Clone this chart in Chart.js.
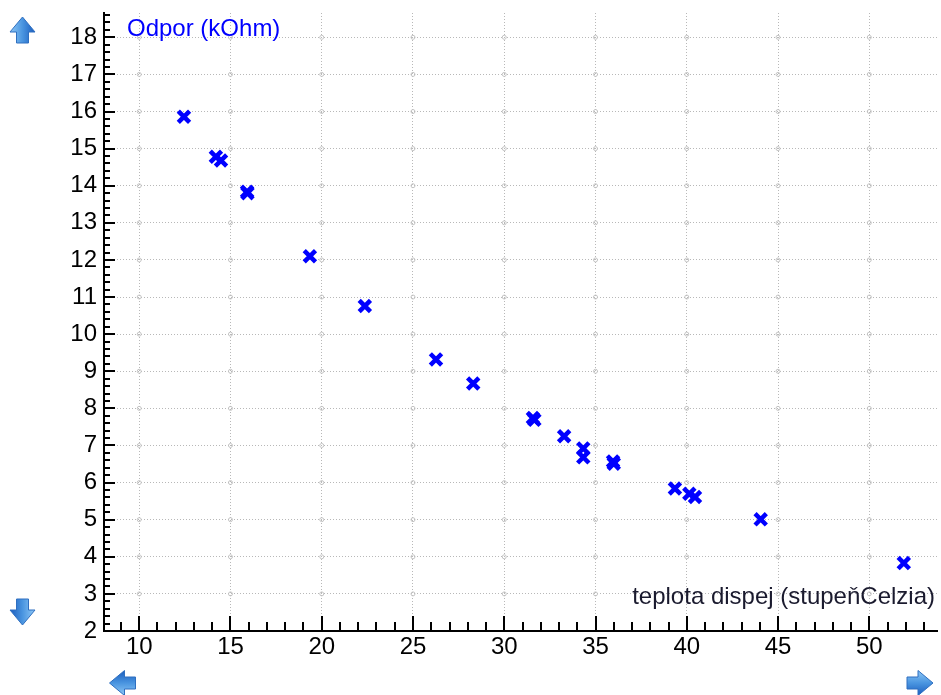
<!DOCTYPE html>
<html><head><meta charset="utf-8">
<script src="https://cdn.jsdelivr.net/npm/chart.js@4/dist/chart.umd.min.js"></script>
<style>html,body{margin:0;padding:0;background:#fff;overflow:hidden}#wrap{width:941px;height:695px;position:relative}</style>
</head><body><div id="wrap"><canvas id="c" width="941" height="695"></canvas></div>
<script>
// ---- data ----
const temperature = [12.45, 14.20, 14.48, 15.91, 15.93, 19.35, 22.36, 26.26, 28.30, 31.57, 31.65, 33.28, 34.33, 34.33, 35.96, 36.00, 39.35, 40.14, 40.45, 44.05, 51.89];
const resistance  = [15.86, 14.78, 14.68, 13.84, 13.80, 12.10, 10.76, 9.32, 8.67, 7.74, 7.69, 7.25, 6.92, 6.68, 6.57, 6.51, 5.84, 5.70, 5.61, 5.01, 3.83];
const xTickLabels = [10, 15, 20, 25, 30, 35, 40, 45, 50];
const yTickLabels = [2, 3, 4, 5, 6, 7, 8, 9, 10, 11, 12, 13, 14, 15, 16, 17, 18];
const xAxisTitle = 'teplota dispej (stupeňCelzia)';
const yAxisTitle = 'Odpor (kOhm)';
const xRange = [8.07, 53.71];
const yRange = [2, 18.655];

const FONT = "'Liberation Sans', Arial, sans-serif";

function drawArrow(ctx, cx, cy, angle) {
  ctx.save();
  ctx.translate(cx, cy);
  ctx.rotate(angle);
  const g = ctx.createLinearGradient(-12, 0, 12, 0);
  g.addColorStop(0, '#8cc6f5');
  g.addColorStop(0.5, '#4a95e0');
  g.addColorStop(1, '#1c5fbf');
  ctx.beginPath();
  ctx.moveTo(0, -13);
  ctx.lineTo(12.5, 2);
  ctx.lineTo(6, 2);
  ctx.lineTo(6, 13);
  ctx.lineTo(-6, 13);
  ctx.lineTo(-6, 2);
  ctx.lineTo(-12.5, 2);
  ctx.closePath();
  ctx.fillStyle = g;
  ctx.fill();
  ctx.lineWidth = 1;
  ctx.strokeStyle = '#2f6fc0';
  ctx.stroke();
  ctx.restore();
}

const decorPlugin = {
  id: 'decor',
  afterDraw(chart) {
    const {ctx, chartArea} = chart;
    const xs = chart.scales.x, ys = chart.scales.y;
    ctx.save();
    ctx.strokeStyle = '#c4c4c4';
    ctx.lineWidth = 1;
    xTickLabels.forEach(xv => {
      yTickLabels.forEach(yv => {
        if (yv === yRange[0]) return;
        ctx.beginPath();
        ctx.arc(xs.getPixelForValue(xv), ys.getPixelForValue(yv), 2, 0, Math.PI * 2);
        ctx.stroke();
      });
    });
    ctx.strokeStyle = '#000';
    ctx.lineWidth = 2;
    const yb = chartArea.bottom;
    for (let v = Math.ceil(xRange[0]); v <= Math.floor(xRange[1]); v++) {
      const px = Math.round(xs.getPixelForValue(v));
      const len = v % 5 === 0 ? 15 : 9;
      ctx.beginPath();
      ctx.moveTo(px, yb);
      ctx.lineTo(px, yb - len);
      ctx.stroke();
    }
    const xl = chartArea.left;
    for (let k = Math.ceil(yRange[0] * 5); k <= Math.floor(yRange[1] * 5); k++) {
      const v = k / 5;
      const py = Math.round(ys.getPixelForValue(v));
      const len = k % 5 === 0 ? 11 : 6;
      ctx.beginPath();
      ctx.moveTo(xl, py);
      ctx.lineTo(xl + len, py);
      ctx.stroke();
    }
    ctx.font = '24px ' + FONT;
    ctx.textBaseline = 'alphabetic';
    ctx.fillStyle = '#0000ff';
    ctx.textAlign = 'left';
    ctx.fillText(yAxisTitle, chartArea.left + 23, chartArea.top + 23);
    ctx.fillStyle = '#1a1a2e';
    ctx.textAlign = 'right';
    ctx.fillText(xAxisTitle, chartArea.right - 2, chartArea.bottom - 27);
    drawArrow(ctx, 22.5, 30, 0);
    drawArrow(ctx, 22.5, 612, Math.PI);
    drawArrow(ctx, 122.5, 683, -Math.PI / 2);
    drawArrow(ctx, 920, 683, Math.PI / 2);
    ctx.restore();
  }
};

function noPad(s) { s.paddingTop = 0; s.paddingBottom = 0; s.paddingLeft = 0; s.paddingRight = 0; }

new Chart(document.getElementById('c'), {
  type: 'scatter',
  data: {
    datasets: [{
      data: temperature.map((t, i) => ({x: t, y: resistance[i]})),
      pointStyle: 'crossRot',
      radius: 8,
      hoverRadius: 8,
      borderColor: '#0000ff',
      backgroundColor: '#0000ff',
      borderWidth: 4.5
    }]
  },
  options: {
    responsive: false,
    animation: false,
    devicePixelRatio: 1,
    layout: {autoPadding: false, padding: {top: 13, right: 4, left: 0, bottom: 0}},
    plugins: {legend: {display: false}, tooltip: {enabled: false}},
    scales: {
      x: {
        type: 'linear',
        min: xRange[0], max: xRange[1],
        afterFit(s) { s.height = 64; noPad(s); },
        ticks: {
          stepSize: 5, includeBounds: false, autoSkip: false, maxRotation: 0,
          padding: 2, color: '#000',
          font: {family: FONT, size: 24},
          callback: v => xTickLabels.includes(v) ? String(v) : ''
        },
        grid: {drawTicks: false, color: '#b8b8b8', lineWidth: 1},
        border: {display: true, color: '#000', width: 2, dash: [1, 2]}
      },
      y: {
        type: 'linear',
        min: yRange[0], max: yRange[1],
        afterFit(s) { s.width = 104; noPad(s); },
        ticks: {
          stepSize: 1, includeBounds: false, autoSkip: false,
          padding: 7, color: '#000',
          font: {family: FONT, size: 24},
          callback: v => yTickLabels.includes(v) ? String(v) : ''
        },
        grid: {drawTicks: false, color: '#b8b8b8', lineWidth: 1},
        border: {display: true, color: '#000', width: 2, dash: [1, 2]}
      }
    }
  },
  plugins: [decorPlugin]
});
</script>
</body></html>
